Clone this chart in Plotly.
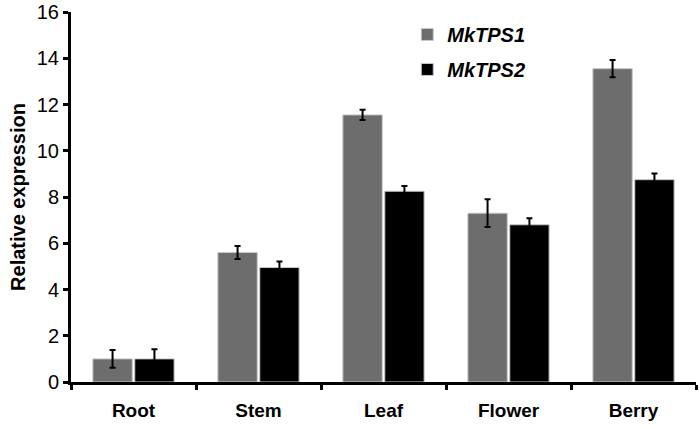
import plotly.graph_objects as go

tissues = ["Root", "Stem", "Leaf", "Flower", "Berry"]
mktps1 = [1.0, 5.6, 11.55, 7.3, 13.55]
mktps1_err = [0.38, 0.28, 0.22, 0.6, 0.37]
mktps2 = [1.0, 4.95, 8.25, 6.8, 8.75]
mktps2_err = [0.42, 0.26, 0.23, 0.28, 0.27]
y_ticks = [0, 2, 4, 6, 8, 10, 12, 14, 16]

font_family = "Liberation Sans, Arial, sans-serif"

fig = go.Figure()
fig.add_trace(go.Bar(
    x=tissues, y=mktps1,
    name="<b><i>MkTPS1</i></b>",
    legendgroup="a",
    marker=dict(color="#6d6d6d", line=dict(color="#c8c8c8", width=1)),
    error_y=dict(type="data", array=mktps1_err, color="black", thickness=2, width=3),
))
fig.add_trace(go.Bar(
    x=tissues, y=mktps2,
    name="<b><i>MkTPS2</i></b>",
    legendgroup="b",
    marker=dict(color="#000000", line=dict(color="#c8c8c8", width=1)),
    error_y=dict(type="data", array=mktps2_err, color="black", thickness=2, width=3),
))

fig.update_layout(
    width=700, height=429,
    margin=dict(l=71, r=4, t=12, b=47),
    paper_bgcolor="white", plot_bgcolor="white",
    font=dict(family=font_family, size=16, color="black"),
    barmode="group", bargap=0.33, bargroupgap=0.06,
    showlegend=True,
    legend=dict(
        x=0.538, y=0.992, xanchor="left", yanchor="top",
        bgcolor="rgba(0,0,0,0)", tracegroupgap=6,
        font=dict(size=20, family=font_family),
    ),
    xaxis=dict(
        automargin=False,
        showline=True, linecolor="black", linewidth=3,
        ticks="outside", tickson="boundaries", ticklen=5, tickwidth=3, tickcolor="black",
        tickfont=dict(size=19, family=font_family),
        tickprefix="<b>", ticksuffix="</b>",
        ticklabelstandoff=9,
        showgrid=False,
    ),
    yaxis=dict(
        automargin=False,
        range=[0, 16], tickvals=y_ticks,
        showline=True, linecolor="black", linewidth=3,
        ticks="outside", ticklen=5, tickwidth=3, tickcolor="black",
        tickfont=dict(size=20, family=font_family),
        tickprefix="<b>", ticksuffix="</b>",
        showgrid=False, zeroline=False,
        title=dict(text="<b>Relative expression</b>", font=dict(size=20, family=font_family), standoff=6),
    ),
)

# page body has a default 8px margin; remove it so the figure sits at the window corner
fig.write_html("out.html", config={"displayModeBar": False},
               post_script="document.body.style.margin='0';")
